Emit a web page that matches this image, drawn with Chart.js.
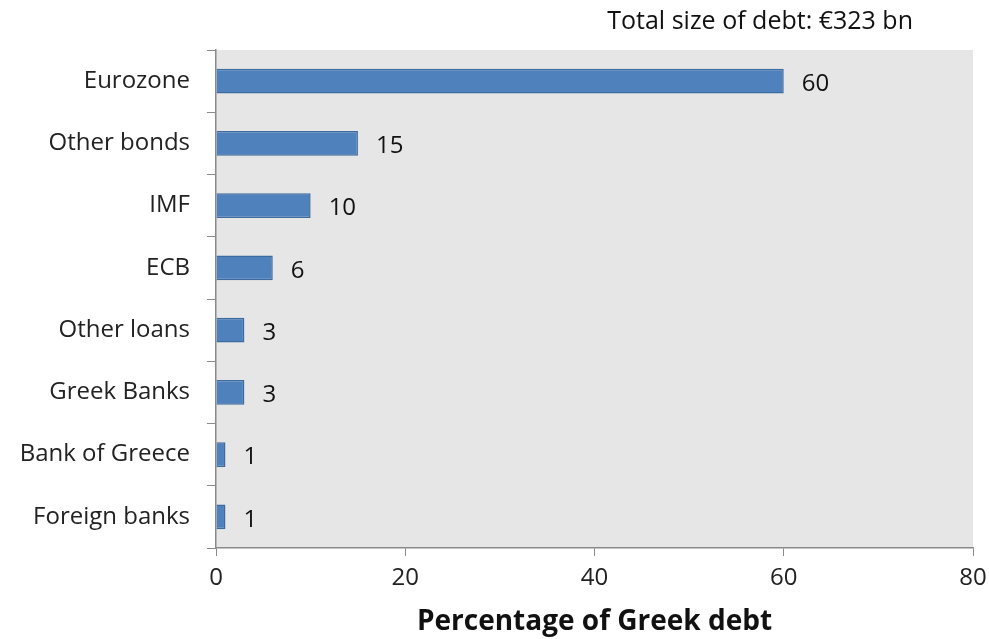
<!DOCTYPE html>
<html>
<head>
<meta charset="utf-8">
<script src="https://cdn.jsdelivr.net/npm/chart.js@4.4.1/dist/chart.umd.min.js"></script>
<style>
  html, body { margin: 0; padding: 0; background: #fff; }
  #wrap { width: 989px; height: 639px; }
</style>
</head>
<body>
<div id="wrap"><canvas id="canvas" width="989" height="639"></canvas></div>
<script>
var categories = ['Eurozone', 'Other bonds', 'IMF', 'ECB', 'Other loans', 'Greek Banks', 'Bank of Greece', 'Foreign banks'];
var shares = [60, 15, 10, 6, 3, 3, 1, 1];
var xTicks = [0, 20, 40, 60, 80];
var chartTitle = 'Total size of debt: €323 bn';
var axisTitle = 'Percentage of Greek debt';

var fontName = "'Open Sans', 'Liberation Sans', sans-serif";

// grey plot area behind the bars
var plotBackground = {
  id: 'plotBackground',
  beforeDraw: function(chart) {
    var a = chart.chartArea, ctx = chart.ctx;
    ctx.save();
    ctx.fillStyle = '#e6e6e6';
    ctx.fillRect(a.left, a.top, a.right - a.left, a.bottom - a.top);
    ctx.restore();
  }
};

// value labels next to each bar + the top-right note
var barLabels = {
  id: 'barLabels',
  afterDatasetsDraw: function(chart) {
    var ctx = chart.ctx;
    var meta = chart.getDatasetMeta(0);
    ctx.save();
    ctx.font = '24px ' + fontName;
    ctx.fillStyle = '#111';
    ctx.textAlign = 'left';
    ctx.textBaseline = 'middle';
    meta.data.forEach(function(bar, i) {
      ctx.fillText(String(shares[i]), bar.x + 18, bar.y + 3);
    });
    ctx.textAlign = 'right';
    ctx.font = '25px ' + fontName;
    ctx.fillText(chartTitle, chart.chartArea.right - 60, 22);
    ctx.restore();
  }
};

window.onload = function() {
  var ctx = document.getElementById('canvas').getContext('2d');
  new Chart(ctx, {
    type: 'bar',
    data: {
      labels: categories,
      datasets: [{
        data: shares,
        backgroundColor: '#4f81bd',
        borderColor: '#3d6b9f',
        borderWidth: 1.5,
        barPercentage: 0.8,
        categoryPercentage: 0.5
      }]
    },
    options: {
      indexAxis: 'y',
      responsive: false,
      animation: false,
      layout: { padding: { top: 50, right: 16, left: 0, bottom: 0 } },
      plugins: {
        legend: { display: false },
        tooltip: { enabled: false },
        title: { display: false }
      },
      scales: {
        x: {
          min: 0,
          max: 80,
          afterBuildTicks: function(scale) {
            scale.ticks = xTicks.map(function(v) { return { value: v }; });
          },
          afterFit: function(scale) {
            scale.height = 91;
            scale.paddingLeft = 0;
            scale.paddingRight = 0;
          },
          grid: { drawOnChartArea: false, drawTicks: true, tickLength: 8, color: '#8a8a8a' },
          border: { display: true, color: '#8a8a8a', width: 1.5 },
          ticks: { padding: 8, color: '#222', font: { family: fontName, size: 24 } },
          title: {
            display: true,
            text: axisTitle,
            color: '#111',
            padding: { top: 2, bottom: 0 },
            font: { family: fontName, size: 28, weight: 'bold' }
          }
        },
        y: {
          offset: true,
          afterFit: function(scale) {
            scale.width = 216;
            scale.paddingTop = 0;
            scale.paddingBottom = 0;
          },
          grid: { offset: true, drawOnChartArea: false, drawTicks: true, tickLength: 9, color: '#8a8a8a' },
          border: { display: true, color: '#8a8a8a', width: 1.5 },
          ticks: { padding: 17, color: '#222', font: { family: fontName, size: 24 } }
        }
      }
    },
    plugins: [plotBackground, barLabels]
  });
};
</script>
</body>
</html>
